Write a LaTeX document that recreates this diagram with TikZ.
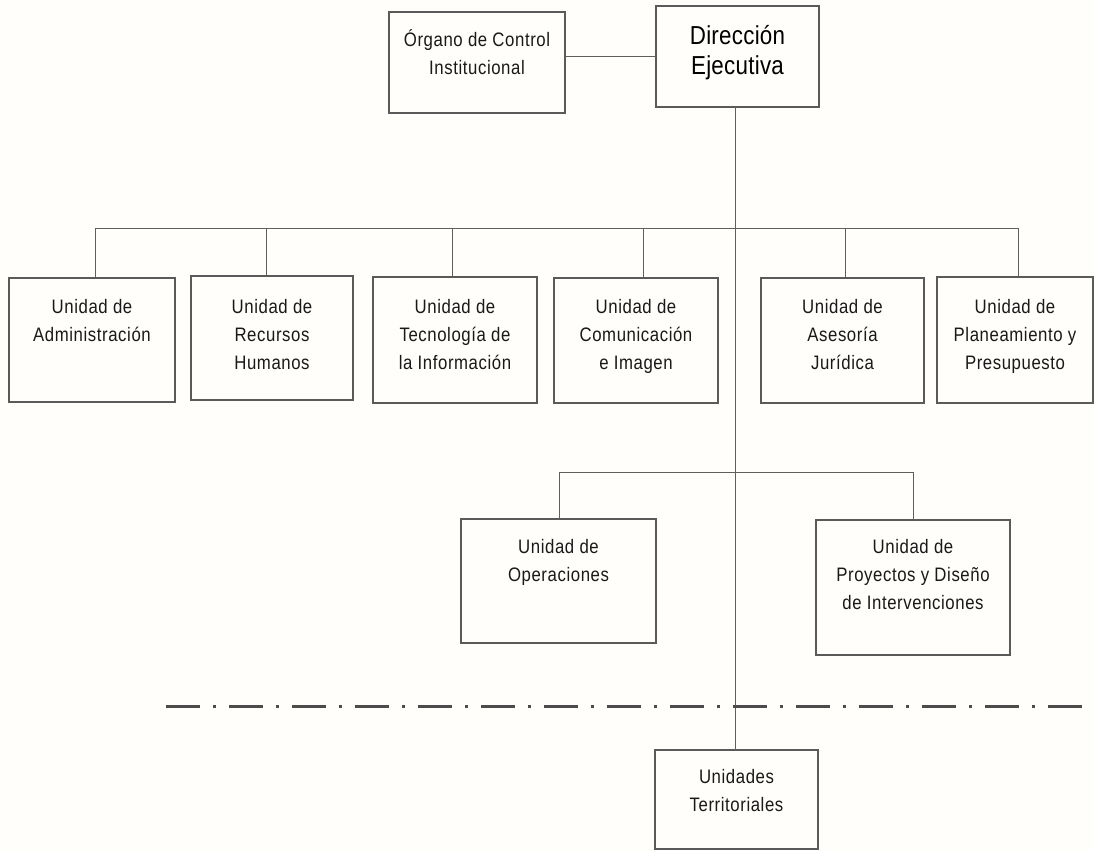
\documentclass[tikz,border=0pt]{standalone}
\usepackage{fontspec}
\setmainfont{Liberation Sans}[FakeStretch=0.86,LetterSpace=3]
\newfontfamily\dirfont{Liberation Sans}[FakeStretch=0.86,LetterSpace=1]
\usetikzlibrary{fit}
\definecolor{bgc}{RGB}{255,254,250}
\definecolor{linec}{RGB}{95,95,95}
\definecolor{boxc}{RGB}{90,90,90}
\definecolor{txtc}{RGB}{25,25,25}
\tikzset{
  orgbox/.style={draw=boxc, line width=1.1pt, inner sep=0pt, rectangle},
  lbl/.style={align=center, inner sep=0pt, anchor=base, text=txtc,
    font=\fontsize{19.5}{28}\selectfont},
  dirlbl/.style={align=center, inner sep=0pt, anchor=base, text=black,
    font=\dirfont\fontsize{26}{30}\selectfont},
  conn/.style={draw=linec, line width=0.9pt},
  dashdotline/.style={draw=linec!80!black, line width=3pt,
    dash pattern=on 34pt off 13pt on 3pt off 13pt}
}
\begin{document}
\begin{tikzpicture}[x=1pt,y=-1pt]
\fill[bgc] (0,0) rectangle (1094,850);
\useasboundingbox (0,0) rectangle (1094,850);

% top level (label anchor = baseline of last line)
\node[orgbox, fit={(389,12) (565,113)}] (oci) {};
\node[lbl] (ocit) at (477,75) {Órgano de Control\\Institucional};
\node[orgbox, fit={(656,6) (819,107)}] (dir) {};
\node[dirlbl] (dirt) at (737.5,75) {Dirección\\Ejecutiva};

% first row
\node[orgbox, fit={(9,278) (175,402)}] (adm) {};
\node[orgbox, fit={(191,276) (353,400)}] (rrhh) {};
\node[orgbox, fit={(373,277) (537,403)}] (tec) {};
\node[orgbox, fit={(554,278) (718,403)}] (com) {};
\node[orgbox, fit={(761,278) (924,403)}] (ase) {};
\node[orgbox, fit={(937,277) (1093,403)}] (pla) {};

\node[lbl] (admt) at (92,341) {Unidad de\\Administración};
\node[lbl] (rrhht) at (272,369) {Unidad de\\Recursos\\Humanos};
\node[lbl] (tect) at (455,369) {Unidad de\\Tecnología de\\la Información};
\node[lbl] (comt) at (636,369) {Unidad de\\Comunicación\\e Imagen};
\node[lbl] (aset) at (842.5,369) {Unidad de\\Asesoría\\Jurídica};
\node[lbl] (plat) at (1015,369) {Unidad de\\Planeamiento y\\Presupuesto};

% second row
\node[orgbox, fit={(461,519) (656,643)}] (ops) {};
\node[orgbox, fit={(816,520) (1010,655)}] (proy) {};
\node[lbl] (opst) at (558.5,581) {Unidad de\\Operaciones};
\node[lbl] (proyt) at (913,609) {Unidad de\\Proyectos y Diseño\\de Intervenciones};

% territorial
\node[orgbox, fit={(655,750) (818,849)}] (ut) {};
\node[lbl] (utt) at (736.5,811) {Unidades\\Territoriales};

% connectors
\draw[conn] (dir.west) -- (dir.west -| oci.east);
\coordinate (spineTop) at (735,107);
\coordinate (spineBot) at (735,750);
\draw[conn] (spineTop) -- (spineBot);

\coordinate (busL) at (95,228);
\coordinate (busR) at (1018,228);
\draw[conn] (busL) -- (busR);
\foreach \n/\x in {adm/95, rrhh/266, tec/452, com/643, ase/845, pla/1018}
  \draw[conn] (\x,228) -- (\x,228 |- \n.north);

\coordinate (bus2L) at (559,472);
\coordinate (bus2R) at (913,472);
\draw[conn] (ops.north -| bus2L) -- (bus2L) -- (bus2R) -- (proy.north -| bus2R);

% dash-dot separator
\coordinate (sepL) at (166,706);
\coordinate (sepR) at (1094,706);
\draw[dashdotline] (sepL) -- (sepR);
\end{tikzpicture}
\end{document}
